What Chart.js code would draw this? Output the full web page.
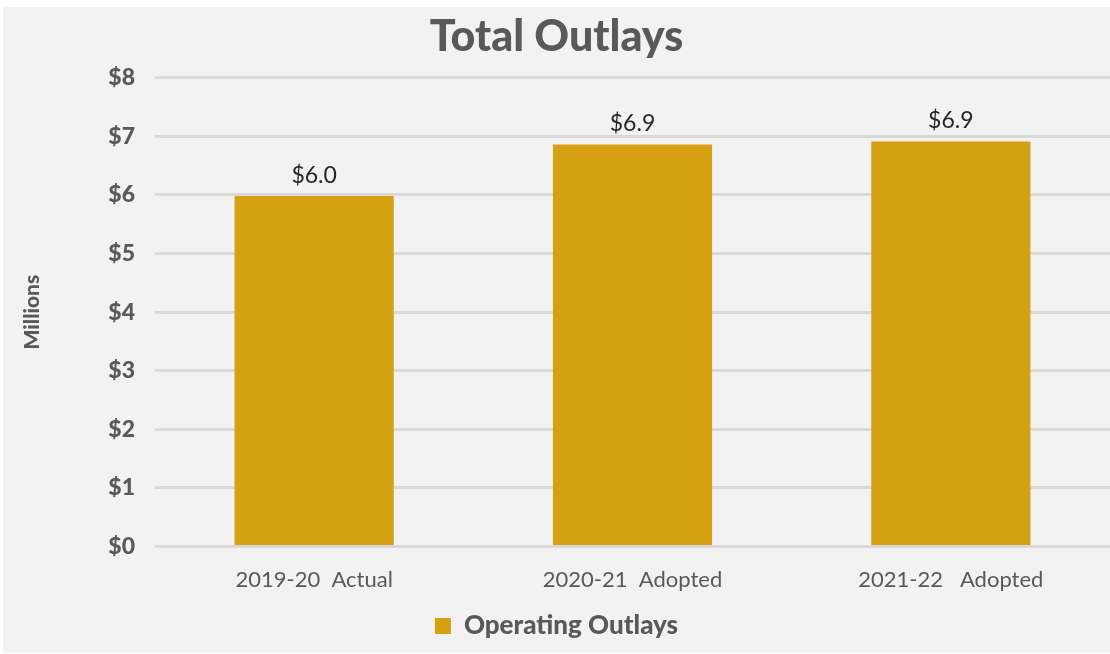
<!DOCTYPE html>
<html lang="en">
<head>
  <meta charset="UTF-8">
  <title>Total Outlays</title>
  <script src="https://cdn.jsdelivr.net/npm/chart.js"></script>
  <style>
    body {
      margin: 0;
      background: #ffffff;
    }
    #wrap {
      position: absolute;
      left: 3px;
      top: 7px;
      width: 1107px;
      height: 646px;
      background: #f2f2f2;
    }
  </style>
</head>
<body>
  <div id="wrap"><canvas id="outlays"></canvas></div>
  <script>
    var categories = ['2019-20  Actual', '2020-21  Adopted', '2021-22   Adopted'];
    var operatingOutlays = [5.98, 6.86, 6.91];
    var yTicks = [0, 1, 2, 3, 4, 5, 6, 7, 8];

    var gold = '#d5a011';
    var grey = '#595959';

    // value labels above each bar
    var barLabels = {
      id: 'barLabels',
      afterDatasetsDraw: function (chart) {
        var ctx = chart.ctx;
        var meta = chart.getDatasetMeta(0);
        ctx.save();
        ctx.font = '23px Lato';
        ctx.fillStyle = '#262626';
        ctx.textAlign = 'center';
        ctx.textBaseline = 'bottom';
        meta.data.forEach(function (bar, i) {
          ctx.fillText('$' + operatingOutlays[i].toFixed(1), bar.x, bar.y - 9);
        });
        ctx.restore();
      }
    };

    var ctx = document.getElementById('outlays').getContext('2d');
    new Chart(ctx, {
      type: 'bar',
      data: {
        labels: categories,
        datasets: [{
          label: 'Operating Outlays',
          data: operatingOutlays,
          backgroundColor: gold,
          borderWidth: 0,
          categoryPercentage: 1,
          barPercentage: 0.5
        }]
      },
      options: {
        responsive: true,
        maintainAspectRatio: false,
        animation: false,
        layout: { padding: { left: 0, right: 0, top: 0, bottom: 4 } },
        plugins: {
          title: {
            display: true,
            text: 'Total Outlays',
            color: grey,
            font: { family: 'Lato', size: 43, weight: '900' },
            padding: { top: 4, bottom: 15 }
          },
          legend: {
            position: 'bottom',
            labels: {
              color: grey,
              font: { family: 'Lato', size: 26, weight: '900' },
              boxWidth: 16,
              boxHeight: 16,
              padding: 8
            }
          },
          tooltip: { enabled: false }
        },
        scales: {
          x: {
            grid: { display: false },
            border: { display: false },
            ticks: {
              color: grey,
              font: { family: 'Lato', size: 22 },
              padding: 12
            }
          },
          y: {
            min: 0,
            max: 8,
            afterBuildTicks: function (scale) {
              scale.ticks = yTicks.map(function (v) { return { value: v }; });
            },
            afterFit: function (scale) {
              scale.width = 152;
            },
            grid: { color: '#d9d9d9', lineWidth: 3, drawTicks: false },
            border: { display: false },
            ticks: {
              color: grey,
              font: { family: 'Lato', size: 23, weight: '900' },
              padding: 20,
              callback: function (v) { return '$' + v; }
            },
            title: {
              display: true,
              text: 'Millions',
              color: grey,
              font: { family: 'Lato', size: 21, weight: '900' },
              padding: { top: 17, bottom: 0 }
            }
          }
        }
      },
      plugins: [barLabels]
    });
  </script>
</body>
</html>
